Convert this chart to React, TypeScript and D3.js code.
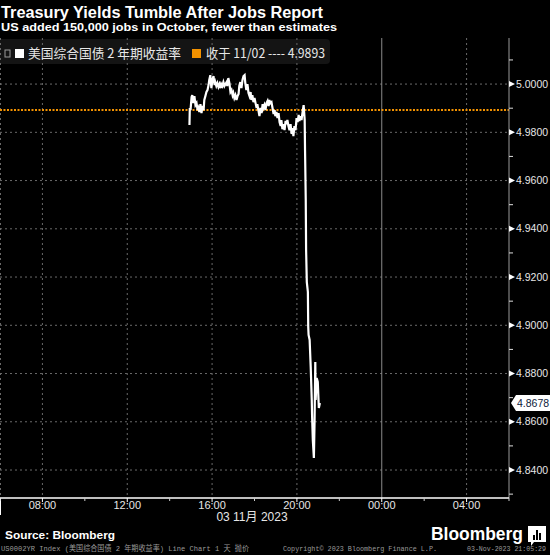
import React from 'react';
import * as d3 from 'd3';

// 美国2年期国债收益率 11/03 盘中数据 (时间, 收益率)
const times = [
  '14:56', '14:57', '14:59', '15:02', '15:04', '15:07', '15:10', '15:13', '15:16', '15:19',
  '15:21', '15:24', '15:27', '15:30', '15:33', '15:36', '15:38', '15:41', '15:44', '15:47',
  '15:50', '15:52', '15:55', '15:58', '16:01', '16:04', '16:07', '16:09', '16:12', '16:15',
  '16:18', '16:21', '16:24', '16:26', '16:29', '16:32', '16:35', '16:38', '16:41', '16:43',
  '16:46', '16:49', '16:52', '16:55', '16:58', '17:00', '17:03', '17:06', '17:09', '17:12',
  '17:15', '17:17', '17:20', '17:23', '17:26', '17:29', '17:32', '17:34', '17:37', '17:40',
  '17:43', '17:46', '17:49', '17:51', '17:54', '17:57', '18:00', '18:03', '18:06', '18:08',
  '18:11', '18:14', '18:17', '18:20', '18:23', '18:25', '18:28', '18:31', '18:34', '18:37',
  '18:40', '18:42', '18:45', '18:48', '18:51', '18:54', '18:57', '18:59', '19:02', '19:05',
  '19:08', '19:11', '19:14', '19:16', '19:19', '19:22', '19:25', '19:28', '19:31', '19:33',
  '19:36', '19:39', '19:42', '19:45', '19:48', '19:50', '19:53', '19:56', '19:59', '20:02',
  '20:05', '20:07', '20:10', '20:13', '20:16', '20:19', '20:22', '20:23', '20:25', '20:26',
  '20:28', '20:31', '20:32', '20:33', '20:36', '20:39', '20:42', '20:43', '20:45', '20:48',
  '20:50', '20:52', '20:53', '20:56', '20:59', '21:02', '21:05',
];
const yields = [
  4.9830, 4.9901, 4.9892, 4.9946, 4.9954, 4.9921, 4.9950, 4.9913, 4.9921, 4.9892,
  4.9901, 4.9884, 4.9917, 4.9880, 4.9909, 4.9892, 4.9934, 4.9950, 4.9967, 4.9975,
  4.9996, 5.0017, 5.0037, 4.9983, 5.0017, 5.0033, 4.9996, 5.0008, 4.9992, 5.0004,
  4.9988, 5.0000, 4.9983, 5.0000, 4.9992, 5.0008, 4.9992, 5.0000, 5.0008, 4.9992,
  5.0025, 5.0004, 4.9967, 4.9975, 4.9954, 4.9963, 4.9942, 4.9954, 4.9934, 4.9950,
  4.9959, 4.9992, 5.0008, 4.9983, 5.0017, 5.0033, 5.0037, 5.0004, 4.9975, 5.0000,
  4.9963, 4.9950, 4.9967, 4.9934, 4.9954, 4.9925, 4.9942, 4.9921, 4.9901, 4.9917,
  4.9892, 4.9867, 4.9901, 4.9880, 4.9917, 4.9901, 4.9913, 4.9892, 4.9921, 4.9930,
  4.9909, 4.9934, 4.9921, 4.9925, 4.9901, 4.9876, 4.9892, 4.9867, 4.9884, 4.9859,
  4.9880, 4.9842, 4.9826, 4.9851, 4.9813, 4.9834, 4.9809, 4.9847, 4.9834, 4.9851,
  4.9826, 4.9809, 4.9834, 4.9793, 4.9818, 4.9784, 4.9826, 4.9809, 4.9859, 4.9842,
  4.9872, 4.9847, 4.9867, 4.9851, 4.9884, 4.9913, 4.9851, 4.9726, 4.9519, 4.9312,
  4.9179, 4.9138, 4.8993, 4.8960, 4.8939, 4.8827, 4.8690, 4.8620, 4.8524, 4.8450,
  4.8607, 4.8848, 4.8690, 4.8781, 4.8765, 4.8657, 4.8678,
];

const yTicks = [5.0, 4.98, 4.96, 4.94, 4.92, 4.9, 4.88, 4.86, 4.84];
const yMinorTicks = [5.01, 4.99, 4.97, 4.95, 4.93, 4.91, 4.89, 4.87, 4.85, 4.83];
const prevClose = 4.9893;
const prevCloseDate = '11/02';
const lastValue = 4.8678;
const seriesName = '美国综合国债 2 年期收益率';
const dateLabel = '03 11月 2023';

const W = 550;
const H = 555;
const plot = { left: 0, right: 509, top: 38, bottom: 498 };

const parse = d3.timeParse('%Y-%m-%d %H:%M');
const data = times.map((t, i) => ({ date: parse(`2023-11-03 ${t}`) as Date, value: yields[i] }));

export default function App() {
  const x = d3.scaleTime()
    .domain([new Date(2023, 10, 3, 6, 0), new Date(2023, 10, 4, 6, 0)])
    .range([plot.left, plot.right]);
  const y = d3.scaleLinear()
    .domain([4.8284, 5.0191])
    .range([plot.bottom, plot.top]);

  const majorX = x.ticks(d3.timeHour.every(4)!);
  const minorX = x.ticks(d3.timeHour.every(2)!).filter(d => d.getHours() % 4 !== 0);
  const fmt = d3.timeFormat('%H:%M');

  const line = d3.line<{ date: Date; value: number }>()
    .x(d => x(d.date))
    .y(d => y(d.value));

  const grid = '#6a6a6a';
  const labelColor = '#e6e6e6';
  const lastY = y(lastValue);

  return (
    <svg width={W} height={H} style={{ position: 'absolute', left: 0, top: 0, display: 'block', background: '#000' }}
      fontFamily="'Liberation Sans', Arial, sans-serif">
      <rect width={W} height={H} fill="#000" />

      {/* 标题 */}
      <text x={1} y={17.5} fill="#fff" fontSize={16} fontWeight="bold" textLength={322} lengthAdjust="spacingAndGlyphs">
        Treasury Yields Tumble After Jobs Report
      </text>
      <text x={1} y={30.5} fill="#fff" fontSize={11} fontWeight="bold" textLength={336} lengthAdjust="spacingAndGlyphs">
        US added 150,000 jobs in October, fewer than estimates
      </text>

      {/* 图例 */}
      <path d="M0,39 H326 Q330,39 330,43 V60 Q330,64 326,64 H0 Z" fill="#141414" />

      {/* 网格 */}
      {yTicks.map(t => (
        <line key={t} x1={plot.left} x2={plot.right} y1={y(t)} y2={y(t)} stroke={grid} strokeDasharray="2,3" />
      ))}
      <line x1={0.5} x2={0.5} y1={plot.top} y2={plot.bottom} stroke={grid} strokeDasharray="2,3" />
      {majorX.map(d => (
        <line key={+d} x1={x(d)} x2={x(d)} y1={plot.top} y2={plot.bottom}
          stroke={d.getHours() === 0 ? '#8a8a8a' : grid}
          strokeDasharray={d.getHours() === 0 ? undefined : '2,3'} />
      ))}

      {/* 图例内容 */}
      <rect x={5} y={50} width={5} height={7} fill="none" stroke="#9a9a9a" strokeWidth={1} />
      <rect x={15} y={49} width={9} height={9} fill="#fff" />
      <text x={28} y={58} fill="#e8e8e8" fontSize={13} fontFamily="'Noto Sans CJK SC', sans-serif" textLength={153} lengthAdjust="spacingAndGlyphs">
        {seriesName}
      </text>
      <rect x={192} y={49} width={9} height={9} fill="#f39200" />
      <text x={206} y={58} fill="#e8e8e8" fontSize={13} fontFamily="'Noto Sans CJK SC', sans-serif" textLength={119} lengthAdjust="spacingAndGlyphs">
        {`收于 ${prevCloseDate} ---- ${prevClose.toFixed(4)}`}
      </text>

      {/* 前收盘 */}
      <line x1={plot.left} x2={plot.right} y1={y(prevClose)} y2={y(prevClose)} stroke="#f39200" strokeWidth={2} strokeDasharray="2,1.5" />

      {/* 收益率线 */}
      <path d={line(data) ?? ''} fill="none" stroke="#fff" strokeWidth={2.2} strokeLinejoin="miter" />

      {/* Y 轴 */}
      <line x1={plot.right} x2={plot.right} y1={plot.top} y2={plot.bottom} stroke="#9a9a9a" />
      {yMinorTicks.map(t => (
        <line key={t} x1={plot.right} x2={plot.right + 4} y1={y(t)} y2={y(t)} stroke="#ddd" />
      ))}
      {yTicks.map(t => (
        <g key={t}>
          <path d={`M${plot.right},${y(t) - 3}L${plot.right + 6},${y(t)}L${plot.right},${y(t) + 3}Z`} fill="#fff" />
          <text x={plot.right + 7} y={y(t)} dy="0.35em" fill={labelColor} fontSize={10.5}>{t.toFixed(4)}</text>
        </g>
      ))}
      <path d={`M${plot.right + 2},${lastY}L${plot.right + 7},${lastY - 8}H550V${lastY + 8}H${plot.right + 7}Z`} fill="#fff" />
      <text x={plot.right + 8} y={lastY} dy="0.35em" fill="#0d1a3a" fontSize={10.5}>{lastValue.toFixed(4)}</text>

      {/* X 轴 */}
      <line x1={plot.left} x2={plot.right} y1={plot.bottom} y2={plot.bottom} stroke="#fff" strokeWidth={1.5} />
      <line x1={0.5} x2={0.5} y1={plot.bottom} y2={515} stroke="#fff" />
      {majorX.map(d => (
        <g key={+d}>
          <line x1={x(d)} x2={x(d)} y1={plot.bottom} y2={plot.bottom + 4} stroke="#fff" />
          <text x={x(d)} y={509} textAnchor="middle" fill={labelColor} fontSize={11}>{fmt(d)}</text>
        </g>
      ))}
      {minorX.map(d => (
        <line key={+d} x1={x(d)} x2={x(d)} y1={plot.bottom} y2={plot.bottom + 3} stroke="#ccc" />
      ))}
      <text x={252} y={521} textAnchor="middle" fill={labelColor} fontSize={12} fontFamily="'Liberation Sans', 'Noto Sans CJK SC', sans-serif">
        {dateLabel}
      </text>

      {/* 页脚 */}
      <text x={5} y={539} fill="#fff" fontSize={11} fontWeight="bold" textLength={110} lengthAdjust="spacingAndGlyphs">
        Source: Bloomberg
      </text>
      <text x={431} y={540} fill="#fff" fontSize={19} fontWeight="bold" textLength={92} lengthAdjust="spacingAndGlyphs">
        Bloomberg
      </text>
      <path d="M528,526 H546 V542 H534 L531,546 V542 H528 Z" fill="#fff" />
      <rect x={533} y={535} width={2} height={5} fill="#000" />
      <rect x={536} y={530} width={2} height={10} fill="#000" />
      <rect x={539} y={533} width={2} height={7} fill="#000" />
      <g fill="#9a9a9a" fontSize={7.5} fontFamily="'Liberation Mono', 'Noto Sans CJK SC', monospace">
        <text x={1} y={551} textLength={248} lengthAdjust="spacingAndGlyphs">US0002YR Index (美国综合国债 2 年期收益率) Line Chart 1 天   抛价</text>
        <text x={283} y={551} textLength={154} lengthAdjust="spacingAndGlyphs">Copyright© 2023 Bloomberg Finance L.P.</text>
        <text x={467} y={551} fontSize={6.5} textLength={79} lengthAdjust="spacingAndGlyphs">03-Nov-2023 21:05:29</text>
      </g>
    </svg>
  );
}
